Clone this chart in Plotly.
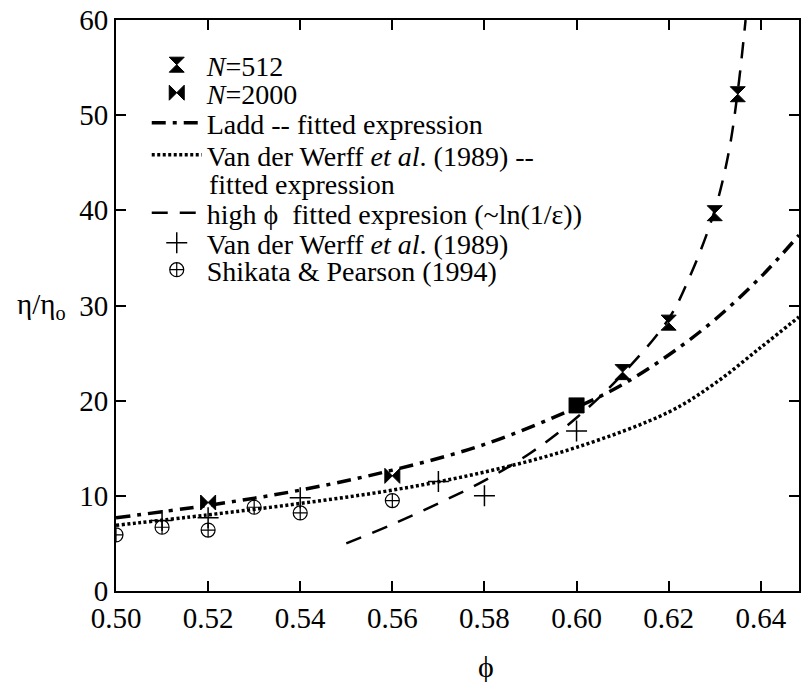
import plotly.graph_objects as go

# ---- data ----
n512_phi = [0.60, 0.61, 0.62, 0.63, 0.635]
n512_eta = [19.5, 23.0, 28.2, 39.7, 52.2]

n2000_phi = [0.52, 0.56, 0.60]
n2000_eta = [9.3, 12.1, 19.5]

ladd_phi = [0.50, 0.52, 0.54, 0.56, 0.58, 0.60, 0.61, 0.62, 0.63, 0.64, 0.6483]
ladd_eta = [7.7, 9.0, 10.6, 12.7, 15.4, 19.3, 21.7, 24.8, 28.5, 33.0, 37.4]

vdwfit_phi = [0.50, 0.52, 0.54, 0.56, 0.58, 0.60, 0.62, 0.63, 0.64, 0.6483]
vdwfit_eta = [6.9, 8.0, 9.2, 10.6, 12.5, 15.1, 18.8, 21.8, 25.6, 28.8]

high_phi = [0.55, 0.56, 0.57, 0.58, 0.59, 0.60, 0.61, 0.62, 0.625, 0.63, 0.633, 0.635, 0.6367]
high_eta = [5.0, 7.0, 9.2, 11.6, 14.5, 18.2, 22.8, 28.6, 33.5, 40.0, 46.0, 52.5, 60.0]

vdw_phi = [0.51, 0.52, 0.54, 0.57, 0.58, 0.60]
vdw_eta = [7.4, 7.7, 9.8, 11.5, 10.0, 16.8]

shik_phi = [0.50, 0.51, 0.52, 0.53, 0.54, 0.56]
shik_eta = [5.9, 6.7, 6.4, 8.8, 8.2, 9.5]

x_ticks = [0.50, 0.52, 0.54, 0.56, 0.58, 0.60, 0.62, 0.64]
y_ticks = [0, 10, 20, 30, 40, 50, 60]

FONT = "Liberation Serif"

fig = go.Figure()
fig.add_trace(go.Scatter(x=n512_phi, y=n512_eta, mode="markers", name="<i>N</i>=512",
                         legend="legend",
                         marker=dict(symbol="hourglass", size=15, color="black",
                                     line=dict(width=1, color="black"))))
fig.add_trace(go.Scatter(x=n2000_phi, y=n2000_eta, mode="markers", name="<i>N</i>=2000",
                         legend="legend2",
                         marker=dict(symbol="bowtie", size=15, color="black",
                                     line=dict(width=1, color="black"))))
fig.add_trace(go.Scatter(x=ladd_phi, y=ladd_eta, mode="lines", name="Ladd -- fitted expression",
                         legend="legend3",
                         line=dict(color="black", width=3.5, dash="14px,7px,4px,7px", shape="spline")))
fig.add_trace(go.Scatter(x=vdwfit_phi, y=vdwfit_eta, mode="lines",
                         name="Van der Werff <i>et al</i>. (1989) --",
                         legend="legend4",
                         line=dict(color="black", width=3.5, dash="3px,2.5px", shape="spline")))
fig.add_trace(go.Scatter(x=high_phi, y=high_eta, mode="lines",
                         name="high ϕ  fitted expresion (~ln(1/ε))",
                         legend="legend5",
                         line=dict(color="black", width=2.5, dash="16px,12px", shape="spline")))
fig.add_trace(go.Scatter(x=vdw_phi, y=vdw_eta, mode="markers", name="Van der Werff <i>et al</i>. (1989)",
                         legend="legend6",
                         marker=dict(symbol="cross-thin-open", size=15, color="black",
                                     line=dict(width=1.5, color="black"))))
fig.add_trace(go.Scatter(x=shik_phi, y=shik_eta, mode="markers", name="Shikata & Pearson (1994)",
                         legend="legend7",
                         marker=dict(symbol="circle-cross-open", size=14, color="black",
                                     line=dict(width=1.2, color="black"))))

axis_common = dict(showline=True, linecolor="black", linewidth=2, mirror="ticks",
                   ticks="inside", ticklen=10, tickwidth=2, tickcolor="black",
                   showgrid=False, zeroline=False,
                   tickfont=dict(family=FONT, size=29, color="black"))

fig.update_xaxes(range=[0.50, 0.6483], tickvals=x_ticks, ticktext=[f"{v:.2f}" for v in x_ticks],
                 **axis_common)
fig.update_yaxes(range=[0, 60], tickvals=y_ticks, ticktext=[str(v) for v in y_ticks],
                 **axis_common)

PLOT_LEFT, PLOT_W = 116, 685
PLOT_TOP, PLOT_H = 20, 571

fig.add_annotation(text="η/η<sub>o</sub>", xref="paper", yref="paper", x=-0.071, y=0.5,
                   xanchor="right", yanchor="middle", showarrow=False,
                   font=dict(family=FONT, size=29, color="black"))
fig.add_annotation(text="ϕ", xref="paper", yref="paper", x=0.542, y=-0.1,
                   xanchor="center", yanchor="top", showarrow=False,
                   font=dict(family=FONT, size=30, color="black"))
# continuation line of the wrapped legend label
fig.add_annotation(text="fitted expression", xref="paper", yref="paper",
                   x=(207 - PLOT_LEFT) / PLOT_W, y=(PLOT_TOP + PLOT_H - 184) / PLOT_H,
                   xanchor="left", yanchor="middle", showarrow=False,
                   font=dict(family=FONT, size=28, color="black"))

# legend rows: pixel centres converted to paper fraction of the plot height
row_px = [65, 93, 123, 155, 213, 243, 270]
leg_x = 0.045
legends = {}
for i, py in enumerate(row_px):
    key = "legend" if i == 0 else f"legend{i + 1}"
    legends[key] = dict(x=leg_x, y=(PLOT_TOP + PLOT_H - py) / PLOT_H, xanchor="left", yanchor="middle",
                        bgcolor="rgba(0,0,0,0)", borderwidth=0,
                        font=dict(family=FONT, size=28, color="black"),
                        tracegroupgap=0, itemwidth=50)

fig.update_layout(
    width=801, height=682,
    margin=dict(l=116, r=0, t=20, b=91),
    paper_bgcolor="white", plot_bgcolor="white",
    font=dict(family=FONT, color="black"),
    showlegend=True,
    **legends,
)

fig.write_html("out.html")
